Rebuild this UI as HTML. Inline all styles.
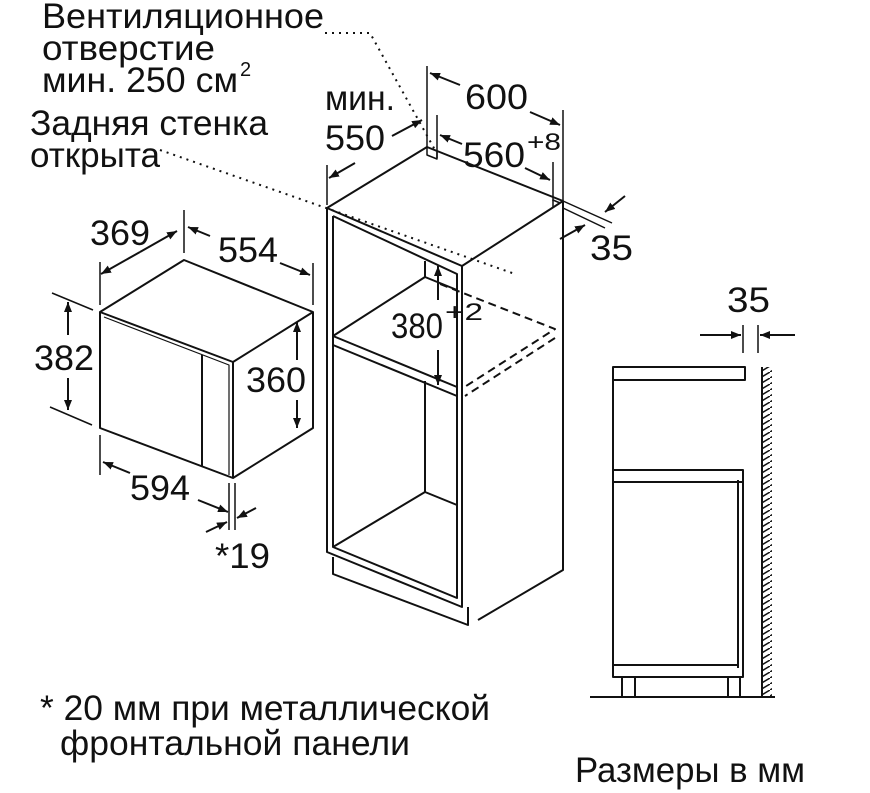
<!DOCTYPE html>
<html><head><meta charset="utf-8"><style>
html,body{margin:0;padding:0;background:#fff}
svg{display:block}
text{font-family:"Liberation Sans",sans-serif;fill:#111}
</style></head><body>
<svg width="870" height="793" viewBox="0 0 870 793" xmlns="http://www.w3.org/2000/svg">
<defs>
<marker id="a" markerWidth="10" markerHeight="8" refX="10" refY="4" orient="auto" markerUnits="userSpaceOnUse"><path d="M0,0 L10,4 L0,8z" fill="#111"/></marker>
<pattern id="h" width="10" height="6" patternUnits="userSpaceOnUse"><path d="M0,6 L10,0" stroke="#111" stroke-width="1.5"/></pattern>
</defs>
<g stroke="#111" stroke-width="2" fill="none" stroke-linejoin="round">
<!-- microwave -->
<path d="M100,312 L184,260 L313,312 L313,428 L233,478 L100,428 Z"/>
<path d="M100,312 L233,362 L313,312 M233,362 L233,478"/>
<path d="M104,317 L229,365 L229,475" stroke-width="1.2"/>
<path d="M202,355 L202,467"/>
<path d="M100,262 L100,305 M184,210 L184,253 M313,263 L313,305" stroke-width="1.5"/>
<path d="M140,252 L101,274" marker-end="url(#a)"/>
<path d="M140,252 L177,231" marker-end="url(#a)"/>
<path d="M210,236 L188,227" marker-end="url(#a)"/>
<path d="M280,263 L310,275" marker-end="url(#a)"/>
<path d="M52,293 L93,310 M50,407 L92,425" stroke-width="1.5"/>
<path d="M68,335 L68,302" marker-end="url(#a)"/>
<path d="M68,378 L68,410" marker-end="url(#a)"/>
<path d="M297,360 L297,322" marker-end="url(#a)"/>
<path d="M297,400 L297,428" marker-end="url(#a)"/>
<path d="M100,435 L100,475 M229,483 L229,530 M235,483 L235,530" stroke-width="1.5"/>
<path d="M130,473 L103,462" marker-end="url(#a)"/>
<path d="M198,500 L228,512" marker-end="url(#a)"/>
<path d="M256,508 L237,518" marker-end="url(#a)"/>
<path d="M206,532 L227,522" marker-end="url(#a)"/>
<!-- cabinet -->
<path d="M327,208 L427,147 L563,201 L462,266 Z"/>
<path d="M427,147 L427,155 L437,159 L437,152 M553,207 L553,200 L560,203" stroke-width="1.5"/>
<path d="M327,208 L327,552 L462,607 L462,266 M333,216 L333,547 L457,598 L457,274 L333,216"/>
<path d="M563,201 L563,570 L478,620"/>
<path d="M333,557 L333,574 L468,625 L468,607"/>
<path d="M333,336 L457,387 M333,345 L457,396 M333,336 L425,277 L425,261 M425,277 L457,290"/>
<path d="M425,381 L425,492 L333,547 M425,492 L457,505"/>
<path d="M440,284 L555,329 L463,388 M555,338 L465,396" stroke-dasharray="8,5"/>
<!-- cabinet dims -->
<path d="M438,300 L438,266" marker-end="url(#a)"/>
<path d="M438,350 L438,385" marker-end="url(#a)"/>
<path d="M427,66 L427,147 M563,110 L563,215 M437,115 L437,158 M553,162 L553,201 M327,165 L327,205" stroke-width="1.5"/>
<path d="M460,85 L430,73" marker-end="url(#a)"/>
<path d="M530,112 L560,125" marker-end="url(#a)"/>
<path d="M462,144 L440,135" marker-end="url(#a)"/>
<path d="M525,168 L550,180" marker-end="url(#a)"/>
<path d="M355,163 L329,178" marker-end="url(#a)"/>
<path d="M392,136 L422,120" marker-end="url(#a)"/>
<path d="M563,201 L612,223 M563,208 L605,228" stroke-width="1.5"/>
<path d="M625,196 L605,212" marker-end="url(#a)"/>
<path d="M560,239 L585,225" marker-end="url(#a)"/>
<!-- dotted -->
<path d="M325,33 L370,33 L435,150 M160,150 L515,274" stroke-width="2" stroke-dasharray="2,5"/>
<!-- side view -->
<rect x="613" y="367" width="132" height="13"/>
<path d="M613,380 L613,677 L743,677 L743,470 L613,470 M613,482 L743,482 M738,480 L738,668 M613,665 L738,665"/>
<path d="M622,677 L622,697 M635,677 L635,697 M728,677 L728,697 M740,677 L740,697 M590,697 L775,697"/>
<rect x="762" y="367" width="10" height="330" fill="url(#h)" stroke="none"/>
<path d="M762,367 L762,697"/>
<path d="M743,325 L743,353 M758,325 L758,353" stroke-width="1.5"/>
<path d="M700,335 L741,335" marker-end="url(#a)"/>
<path d="M795,335 L760,335" marker-end="url(#a)"/>
</g>
<g font-size="35" lengthAdjust="spacingAndGlyphs">
<text x="42" y="28" textLength="282" lengthAdjust="spacingAndGlyphs">Вентиляционное</text>
<text x="42" y="60" textLength="173" lengthAdjust="spacingAndGlyphs">отверстие</text>
<text x="42" y="92" textLength="196" lengthAdjust="spacingAndGlyphs">мин. 250 см</text><text x="240" y="76" font-size="20">2</text>
<text x="30" y="135" textLength="238" lengthAdjust="spacingAndGlyphs">Задняя стенка</text>
<text x="30" y="167" textLength="130" lengthAdjust="spacingAndGlyphs">открыта</text>
<text x="90" y="245" textLength="60" lengthAdjust="spacingAndGlyphs">369</text>
<text x="218" y="262" textLength="60" lengthAdjust="spacingAndGlyphs">554</text>
<text x="34" y="370" textLength="60" lengthAdjust="spacingAndGlyphs">382</text>
<text x="246" y="392" textLength="60" lengthAdjust="spacingAndGlyphs">360</text>
<text x="130" y="500" textLength="60" lengthAdjust="spacingAndGlyphs">594</text>
<text x="215" y="568" textLength="55" lengthAdjust="spacingAndGlyphs">*19</text>
<text x="325" y="110" textLength="70" lengthAdjust="spacingAndGlyphs">мин.</text>
<text x="325" y="150" textLength="60" lengthAdjust="spacingAndGlyphs">550</text>
<text x="465" y="109" textLength="63" lengthAdjust="spacingAndGlyphs">600</text>
<text x="463" y="167" textLength="62" lengthAdjust="spacingAndGlyphs">560</text><text x="527" y="150" font-size="24" textLength="34" lengthAdjust="spacingAndGlyphs">+8</text>
<text x="590" y="260" textLength="43" lengthAdjust="spacingAndGlyphs">35</text>
<text x="391" y="338" textLength="52" lengthAdjust="spacingAndGlyphs">380</text><text x="445" y="320" font-size="24" textLength="38" lengthAdjust="spacingAndGlyphs">+2</text>
<text x="727" y="312" textLength="43" lengthAdjust="spacingAndGlyphs">35</text>
<text x="40" y="720" textLength="450" lengthAdjust="spacingAndGlyphs">* 20 мм при металлической</text>
<text x="60" y="755" textLength="350" lengthAdjust="spacingAndGlyphs">фронтальной панели</text>
<text x="575" y="782" textLength="230" lengthAdjust="spacingAndGlyphs">Размеры в мм</text>
</g>
</svg>
</body></html>
